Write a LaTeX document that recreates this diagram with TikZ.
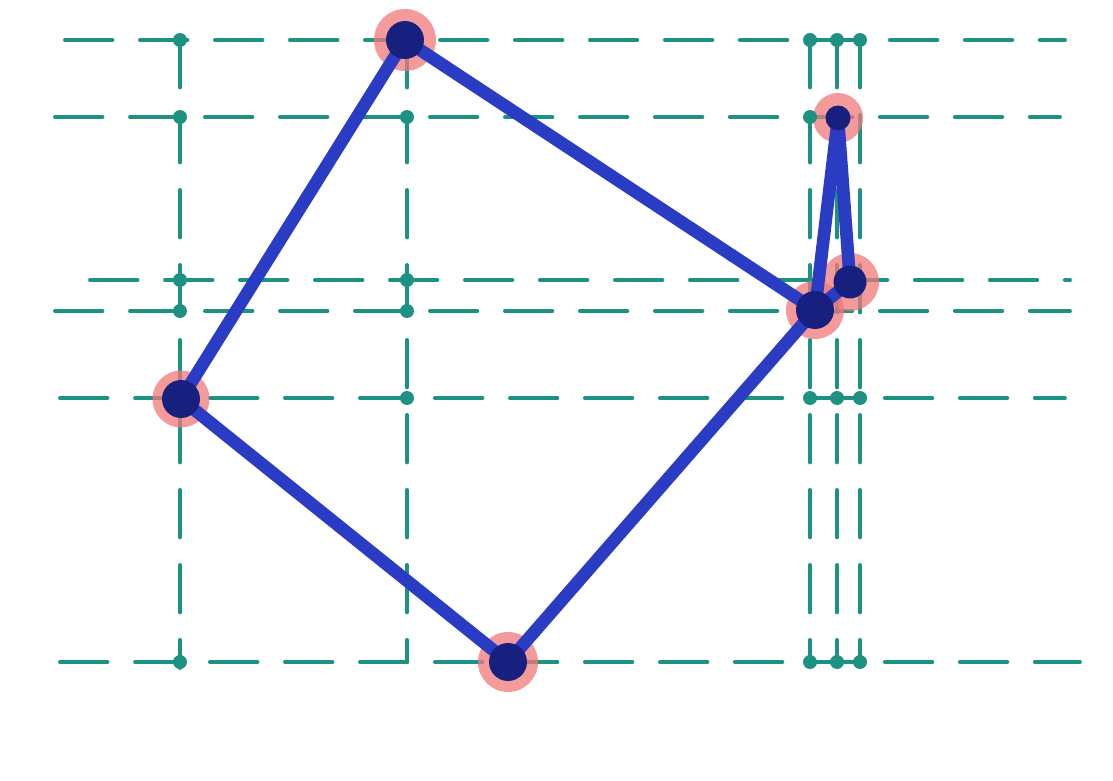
\documentclass[tikz,border=0pt]{standalone}
\usepackage{tikz}
\usetikzlibrary{backgrounds}
\definecolor{GridTeal}{HTML}{1E9282}
\definecolor{EdgeBlue}{HTML}{2A3BC4}
\definecolor{VertNavy}{HTML}{17207E}
\definecolor{HaloRed}{HTML}{F07878}

\begin{document}
\begin{tikzpicture}[x=0.02cm, y=-0.02cm,
    gridline/.style={GridTeal, line width=2.2pt, line cap=round,
      dash pattern=on 0.95cm off 0.55cm},
    gdot/.style={circle, fill=GridTeal, inner sep=0pt, minimum size=0.28cm},
    vert/.style={circle, fill=VertNavy, inner sep=0pt, minimum size=0.76cm},
    halo/.style={fill=HaloRed, opacity=0.75},
    edge/.style={EdgeBlue, line width=7.2pt, line cap=round}
  ]
    \useasboundingbox (0,0) rectangle (1113,781);

    % the corners
    \node[vert] (A) at (405,40) {};
    \node[vert] (B) at (181,399) {};
    \node[vert] (C) at (508,662) {};
    \node[vert] (D) at (815,310) {};
    \node[vert, minimum size=0.5cm] (E) at (838,118) {};
    \node[vert, minimum size=0.66cm] (F) at (850,282) {};

    % construction dots
    \foreach \x/\y [count=\i] in {180/40, 810/40, 837/40, 860/40,
        180/117, 407/117, 810/117,
        180/280, 407/280, 180/311, 407/311,
        407/398, 810/398, 837/398, 860/398,
        180/662, 810/662, 837/662, 860/662}
      \node[gdot] (g\i) at (\x,\y) {};

    \begin{scope}[on background layer]
      % construction lines
      \foreach \y/\xa/\xb in {40/65/1065, 117/55/1060, 280/90/1070,
          311/55/1070, 398/60/1065, 662/60/1080}
        \draw[gridline] (\xa,\y) -- (\xb,\y);
      \foreach \x/\ya/\yb in {180/40/668, 407/40/662,
          810/40/662, 837/40/662, 860/40/662}
        \draw[gridline] (\x,\ya) -- (\x,\yb);

      \foreach \v/\r in {A/0.62, B/0.57, C/0.6, D/0.58, E/0.5, F/0.58}
        \fill[halo] (\v) circle (\r cm);

      \draw[edge] (A.center) -- (B.center) -- (C.center) -- (D.center) -- (A.center);
      \draw[edge] (D.center) -- (E.center) -- (F.center) -- (D.center);
    \end{scope}
  \end{tikzpicture}
\end{document}
